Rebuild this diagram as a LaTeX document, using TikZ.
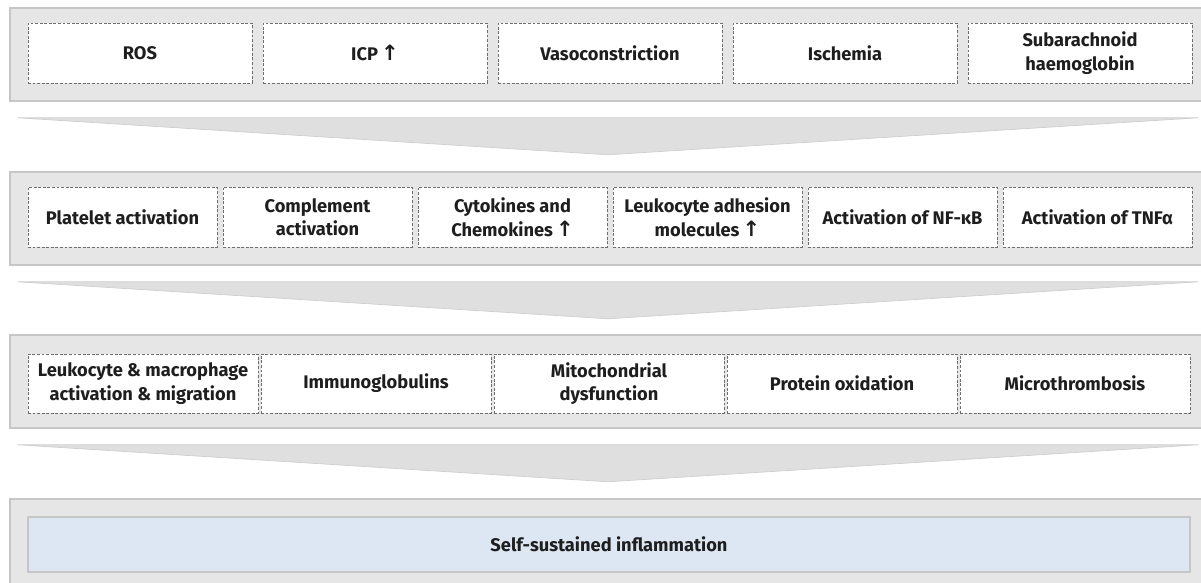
\documentclass[tikz,border=0pt]{standalone}
\usepackage{fontspec}
\setmainfont{Fira Sans}
\newfontfamily\arrowfont{DejaVu Sans}
\usepackage{tikz}
\usetikzlibrary{calc}
\definecolor{bandgray}{HTML}{E6E6E6}
\definecolor{bandline}{HTML}{C6C6C6}
\definecolor{boxline}{HTML}{6E6E6E}
\definecolor{textdark}{HTML}{1E1E1E}
\definecolor{outcome}{HTML}{DDE7F3}
\newcommand{\up}{\,{\arrowfont\bfseries\fontsize{12}{13.4}\selectfont ↑}}

\begin{document}
\begin{tikzpicture}
                [
                x=0.02cm, y=-0.02cm,
                band/.style={rectangle,draw=bandline,line width=0.9pt,fill=bandgray,minimum width=24cm,minimum height=1.86cm},
                cause/.style={rectangle,draw=boxline,line width=0.5pt,dash pattern=on 1.6pt off 1pt,fill=white,
                  align=center,text=textdark,font=\fontsize{10.4}{13.4}\selectfont\bfseries,inner sep=1pt},
                wide/.style={cause,minimum width=4.48cm,minimum height=1.2cm},
                narrow/.style={cause,minimum width=3.78cm,minimum height=1.2cm},
                mid/.style={cause,minimum width=4.6cm,minimum height=1.18cm},
                result/.style={rectangle,draw=bandline,line width=0.9pt,fill=outcome,minimum width=23.24cm,minimum height=1.1cm,
                  text=textdark,font=\fontsize{10.4}{13.4}\selectfont\bfseries},
                chevron/.style={fill=bandgray!97!black,draw=bandgray!90!black,line width=0.4pt}
                ]
            \useasboundingbox (0,0) rectangle (1201,582);
            \node[band] (b1) at (610,54.5) {};
            \node[band] (b2) at (610,218.5) {};
            \node[band] (b3) at (610,381.5) {};
            \node[band] (b4) at (610,545.5) {};
            \node[wide] (ros) at (140,53) {ROS};
            \node[wide] (icp) at (375,53) {ICP\up};
            \node[wide] (vaso) at (610,53) {Vasoconstriction};
            \node[wide] (isch) at (845,53) {Ischemia};
            \node[wide] (sah) at (1080,53) {Subarachnoid\\haemoglobin};
            \node[narrow] (plt) at (122.5,217) {Platelet activation};
            \node[narrow] (comp) at (317.5,217) {Complement\\activation};
            \node[narrow] (cyto) at (512.5,217) {Cytokines and\\Chemokines\up};
            \node[narrow] (adh) at (707.5,217) {Leukocyte adhesion\\molecules\up};
            \node[narrow] (nfkb) at (902.5,217) {Activation of NF-κB};
            \node[narrow] (tnf) at (1097.5,217) {Activation of TNFα};
            \node[mid] (leuk) at (143,383.5) {Leukocyte \& macrophage\\activation \& migration};
            \node[mid] (igs) at (376,383.5) {Immunoglobulins};
            \node[mid] (mito) at (609,383.5) {Mitochondrial\\dysfunction};
            \node[mid] (prot) at (842,383.5) {Protein oxidation};
            \node[mid] (mthr) at (1075,383.5) {Microthrombosis};
            \node[result] (infl) at (609,544.5) {Self-sustained inflammation};
            \fill[chevron] ($(b1.south west)+(8,16)$) -- ($(b1.south east)+(-12,16)$) -- ($(b1.south)+(-2,53)$) -- cycle;
            \fill[chevron] ($(b2.south west)+(8,16)$) -- ($(b2.south east)+(-12,16)$) -- ($(b2.south)+(-2,53)$) -- cycle;
            \fill[chevron] ($(b3.south west)+(8,16)$) -- ($(b3.south east)+(-12,16)$) -- ($(b3.south)+(-2,53)$) -- cycle;
            \end{tikzpicture}
\end{document}
